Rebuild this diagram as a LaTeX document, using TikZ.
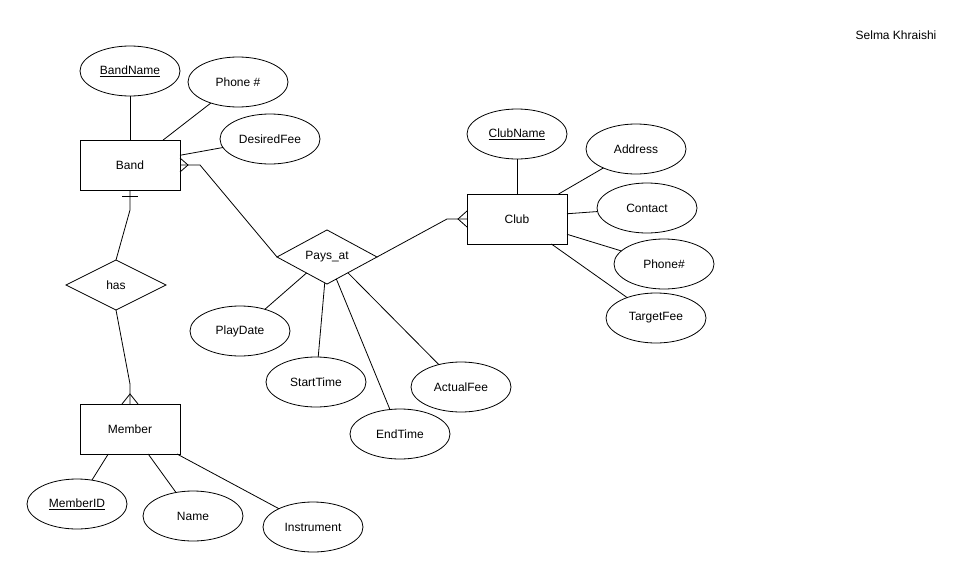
\documentclass[tikz,border=0pt]{standalone}
\usepackage{fontspec}
\setmainfont{Liberation Sans}
\usepackage{tikz}
\usetikzlibrary{shapes.geometric, calc, positioning}

\begin{document}
\begin{tikzpicture}[x=1pt, y=-1pt, line width=0.8pt,
		every node/.style={font=\fontsize{12}{14}\selectfont},
		entity/.style={draw, rectangle, minimum width=100pt, minimum height=50pt, inner sep=0pt, outer sep=0pt},
		attr/.style={draw, ellipse, minimum width=100pt, minimum height=50pt, inner sep=0pt, outer sep=0pt},
		rel/.style={draw, diamond, minimum width=100pt, minimum height=50pt, inner sep=0pt, outer sep=0pt}]
	\useasboundingbox (0,0) rectangle (979,578);
	\node at (896,35) (author) {Selma Khraishi};

	%% entities and relationships
	\node[entity] at (130,165) (band) {Band};
	\node[entity] at (517,219) (club) {Club};
	\node[entity] at (130,429) (member) {Member};
	\node[rel] at (327,257) (pays) {Pays\_at};
	\node[rel] at (116,285) (has) {has};

	%% attributes
	\node[attr] at (130,71) (bandname) {\underline{BandName}};
	\node[attr] at (238,82) (bandphone) {Phone \#};
	\node[attr] at (270,139) (desiredfee) {DesiredFee};
	\node[attr] at (517,134) (clubname) {\underline{ClubName}};
	\node[attr] at (636,149) (address) {Address};
	\node[attr] at (647,208) (contact) {Contact};
	\node[attr] at (664,264) (clubphone) {Phone\#};
	\node[attr] at (656,318) (targetfee) {TargetFee};
	\node[attr] at (240,331) (playdate) {PlayDate};
	\node[attr] at (316,382) (starttime) {StartTime};
	\node[attr] at (400,434) (endtime) {EndTime};
	\node[attr] at (461,387) (actualfee) {ActualFee};
	\node[attr] at (77,504) (memberid) {\underline{MemberID}};
	\node[attr] at (193,516) (name) {Name};
	\node[attr] at (313,527) (instrument) {Instrument};

	%% attribute lines
	\draw (bandname) -- (band);
	\draw (band.37) -- (bandphone);
	\draw (band.11) -- (desiredfee);
	\draw (clubname) -- (club);
	\draw (club.31) -- (address);
	\draw (club.6) -- (contact);
	\draw (club.-17) -- (clubphone);
	\draw (club.-36) -- (targetfee);
	\draw (pays.218) -- (playdate);
	\draw (pays.265) -- (starttime);
	\draw (pays.293) -- (endtime);
	\draw (pays.323) -- (actualfee);
	\draw (member.229) -- (memberid);
	\draw (member.-54) -- (name);
	\draw (member.-28) -- (instrument);

	%% relationship lines with crow's feet
	\draw (band.east) -- ++(20,0) -- (pays.west);
	\draw ($(band.east)+(0,-7)$) -- ($(band.east)+(8,0)$) -- ($(band.east)+(0,7)$);
	\draw (club.west) -- ++(-20,0) -- (pays.east);
	\draw ($(club.west)+(0,-8)$) -- ($(club.west)+(-9,0)$) -- ($(club.west)+(0,8)$);
	\draw (band.south) -- ++(0,20) -- (has.north);
	\draw ($(band.south)+(-8,6)$) -- ($(band.south)+(8,6)$);
	\draw (has.south) -- ($(member.north)+(0,-20)$) -- (member.north);
	\draw ($(member.north)+(-8,0)$) -- ($(member.north)+(0,-10)$) -- ($(member.north)+(8,0)$);
\end{tikzpicture}
\end{document}
